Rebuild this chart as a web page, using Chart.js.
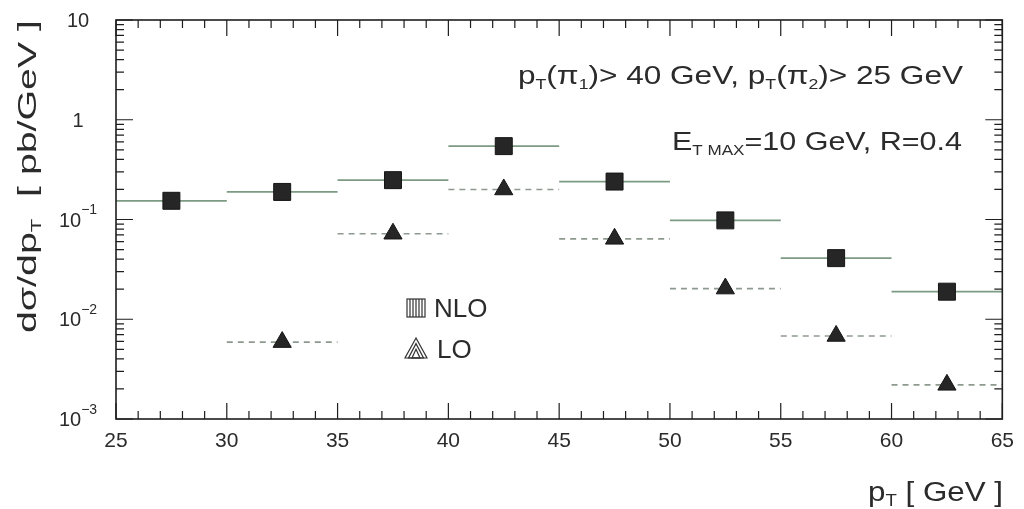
<!DOCTYPE html>
<html>
<head>
<meta charset="utf-8">
<script src="https://cdn.jsdelivr.net/npm/chart.js@4/dist/chart.umd.min.js"></script>
<style>
    html, body { margin: 0; padding: 0; background: #fff; }
    #div_container { position: relative; width: 1024px; height: 509px; }
</style>
</head>
<body>
<div id="div_container"><canvas id="crossSectionChart"></canvas></div>
<script>
// bins in pT [GeV]
const binLow = [25, 30, 35, 40, 45, 50, 55, 60];
const binHigh = [30, 35, 40, 45, 50, 55, 60, 65];
const binCenter = [27.5, 32.5, 37.5, 42.5, 47.5, 52.5, 57.5, 62.5];

// dsigma/dpT [pb/GeV]
const nloValues = [0.154, 0.189, 0.248, 0.544, 0.240, 0.098, 0.041, 0.0189];
const loValues = [null, 0.0059, 0.072, 0.200, 0.064, 0.0203, 0.0068, 0.0022];

// axes
const xMajorTicks = [25, 30, 35, 40, 45, 50, 55, 60, 65];
const yDecadeExps = [-3, -2, -1, 0, 1];

const TEXT_COLOR = '#2b2b2b';
const FONT = "'Liberation Sans', Arial, sans-serif";

// "10" with exponent as separate piece so it can be drawn raised
function decadeParts(exp) {
    if (exp === 0) return [['1', '']];
    if (exp === 1) return [['10', '']];
    return [['10', ''], [String(exp).replace('-', '\u2212'), 'sup']];
}

function segmentPoints(values) {
    const points = [];
    for (let i = 0; i < values.length; i++) {
        if (values[i] === null) continue;
        points.push({ x: binLow[i], y: values[i] });
        points.push({ x: binHigh[i], y: values[i] });
        points.push({ x: binHigh[i], y: null });
    }
    return points;
}

function markerPoints(values) {
    const points = [];
    for (let i = 0; i < values.length; i++) {
        if (values[i] === null) continue;
        points.push({ x: binCenter[i], y: values[i] });
    }
    return points;
}

function partFont(part, size) {
    let s = size;
    if (part[1] === 'sub') s = Math.round(size * 0.58);
    if (part[1] === 'sup') s = Math.round(size * 0.68);
    return s + 'px ' + FONT;
}

function partOffset(part, size) {
    if (part[1] === 'sub') return size * 0.2;
    if (part[1] === 'sup') return -size * 0.62;
    return 0;
}

function measureRich(ctx, parts, size) {
    return parts.map(p => {
        ctx.font = partFont(p, size);
        return ctx.measureText(p[0]).width;
    });
}

// draws text pieces with sub/superscripts, left edge at x, stretched to fitWidth
function drawRich(ctx, parts, x, y, size, fitWidth) {
    ctx.save();
    ctx.fillStyle = TEXT_COLOR;
    ctx.textBaseline = 'alphabetic';
    ctx.textAlign = 'left';
    const widths = measureRich(ctx, parts, size);
    const total = widths.reduce((a, b) => a + b, 0);
    ctx.translate(x, y);
    if (fitWidth) ctx.scale(fitWidth / total, 1);
    let cx = 0;
    for (let i = 0; i < parts.length; i++) {
        ctx.font = partFont(parts[i], size);
        ctx.fillText(parts[i][0], cx, partOffset(parts[i], size));
        cx += widths[i];
    }
    ctx.restore();
}

const framePlugin = {
    id: 'frame',
    afterDraw(chart) {
        const ctx = chart.ctx;
        const area = chart.chartArea;
        const xScale = chart.scales.x;
        const yScale = chart.scales.y;

        ctx.save();
        ctx.strokeStyle = '#1e1e1e';
        ctx.lineWidth = 1.6;
        ctx.strokeRect(area.left, area.top, area.right - area.left, area.bottom - area.top);

        ctx.lineWidth = 1.2;
        ctx.beginPath();
        xScale.ticks.forEach(t => {
            const px = xScale.getPixelForValue(t.value);
            const len = xMajorTicks.includes(t.value) ? 16 : 8;
            ctx.moveTo(px, area.bottom);
            ctx.lineTo(px, area.bottom - len);
            ctx.moveTo(px, area.top);
            ctx.lineTo(px, area.top + len);
        });
        yScale.ticks.forEach(t => {
            const py = yScale.getPixelForValue(t.value);
            const len = t.major ? 17 : 8;
            ctx.moveTo(area.left, py);
            ctx.lineTo(area.left + len, py);
            ctx.moveTo(area.right, py);
            ctx.lineTo(area.right - len, py);
        });
        ctx.stroke();

        // legend
        ctx.strokeStyle = '#333';
        ctx.lineWidth = 1.2;
        ctx.strokeRect(407, 299, 18, 18);
        ctx.beginPath();
        for (let lx = 410; lx < 425; lx += 3) {
            ctx.moveTo(lx, 299);
            ctx.lineTo(lx, 317);
        }
        ctx.stroke();
        for (let k = 0; k < 3; k++) {
            const inset = k * 3.5;
            ctx.beginPath();
            ctx.moveTo(416, 338 + inset * 1.6);
            ctx.lineTo(405 + inset, 358);
            ctx.lineTo(427 - inset, 358);
            ctx.closePath();
            ctx.stroke();
        }
        ctx.restore();

        // y tick labels, centred in the gutter
        yScale.ticks.forEach(t => {
            if (!t.major) return;
            const exp = Math.round(Math.log10(t.value));
            const parts = decadeParts(exp);
            const w = measureRich(ctx, parts, 20).reduce((a, b) => a + b, 0);
            const py = yScale.getPixelForValue(t.value);
            drawRich(ctx, parts, 78 - w / 2, py + 7, 20, 0);
        });

        drawRich(ctx, [['NLO', '']], 434, 317, 26, 0);
        drawRich(ctx, [['LO', '']], 437, 358, 26, 0);

        // cut labels
        drawRich(ctx, [['p', ''], ['T', 'sub'], ['(\u03C0', ''], ['1', 'sub'], [')> 40 GeV, p', ''],
            ['T', 'sub'], ['(\u03C0', ''], ['2', 'sub'], [')> 25 GeV', '']], 518, 84, 25, 445);
        drawRich(ctx, [['E', ''], ['T MAX', 'sub'], ['=10 GeV, R=0.4', '']], 672, 150, 25, 290);

        // axis titles
        drawRich(ctx, [['p', ''], ['T', 'sub'], [' [ GeV ]', '']], 868, 501, 27, 135);
        ctx.save();
        ctx.translate(36, 333);
        ctx.rotate(-Math.PI / 2);
        drawRich(ctx, [['d\u03C3/dp', ''], ['T', 'sub'], ['  [ pb/GeV ]', '']], 0, 0, 25, 313);
        ctx.restore();
    }
};

const chartInstance = new Chart(document.getElementById('crossSectionChart'), {
    type: 'line',
    data: {
        datasets: [
            {
                label: 'NLO',
                data: markerPoints(nloValues),
                showLine: false,
                pointStyle: 'rect',
                pointRadius: 12,
                pointBackgroundColor: '#262626',
                pointBorderColor: '#151515',
                pointBorderWidth: 1
            },
            {
                label: 'LO',
                data: markerPoints(loValues),
                showLine: false,
                pointStyle: 'triangle',
                pointRadius: 10.5,
                pointBackgroundColor: '#262626',
                pointBorderColor: '#151515',
                pointBorderWidth: 1
            },
            {
                label: 'NLO bins',
                data: segmentPoints(nloValues),
                borderColor: '#7d9a82',
                borderWidth: 1.8,
                pointRadius: 0,
                spanGaps: false
            },
            {
                label: 'LO bins',
                data: segmentPoints(loValues),
                borderColor: '#8e9a8f',
                borderWidth: 1.6,
                borderDash: [6, 5],
                pointRadius: 0,
                spanGaps: false
            }
        ]
    },
    options: {
        responsive: true,
        maintainAspectRatio: false,
        animation: false,
        layout: {
            padding: { top: 20, right: 17, left: 0, bottom: 0 }
        },
        plugins: {
            legend: { display: false },
            tooltip: { enabled: false }
        },
        scales: {
            x: {
                type: 'linear',
                min: 25,
                max: 65,
                grid: { display: false, drawTicks: false },
                border: { display: false },
                afterFit: function (scale) { scale.height = 90; },
                ticks: {
                    stepSize: 1,
                    autoSkip: false,
                    maxRotation: 0,
                    padding: 10,
                    color: TEXT_COLOR,
                    font: { family: FONT, size: 21 },
                    callback: function (value) {
                        return xMajorTicks.includes(value) ? String(value) : '';
                    }
                }
            },
            y: {
                type: 'logarithmic',
                min: Math.pow(10, yDecadeExps[0]),
                max: Math.pow(10, yDecadeExps[yDecadeExps.length - 1]),
                grid: { display: false, drawTicks: false },
                border: { display: false },
                afterFit: function (scale) { scale.width = 116; },
                afterBuildTicks: function (scale) {
                    const ticks = [];
                    for (let i = 0; i < yDecadeExps.length; i++) {
                        const base = Math.pow(10, yDecadeExps[i]);
                        const last = i === yDecadeExps.length - 1 ? 1 : 9;
                        for (let m = 1; m <= last; m++) {
                            ticks.push({ value: Number((m * base).toPrecision(3)), major: m === 1 });
                        }
                    }
                    scale.ticks = ticks;
                },
                ticks: {
                    display: false,
                    autoSkip: false
                }
            }
        }
    },
    plugins: [framePlugin]
});
</script>
</body>
</html>
